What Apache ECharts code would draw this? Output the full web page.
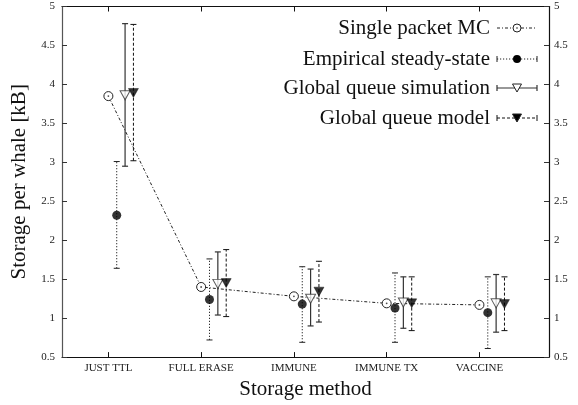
<!DOCTYPE html>
<html>
<head>
<meta charset="utf-8">
<script src="https://cdn.jsdelivr.net/npm/echarts@6/dist/echarts.min.js"></script>
<style>html,body{margin:0;padding:0;background:#fff}#c{width:578px;height:405px}</style>
</head>
<body>
<div id="c"></div>
<script>
const categories = ['JUST TTL', 'FULL ERASE', 'IMMUNE', 'IMMUNE TX', 'VACCINE'];
const yTicks = [0.5, 1, 1.5, 2, 2.5, 3, 3.5, 4, 4.5, 5];
const seriesNames = ['Single packet MC', 'Empirical steady-state', 'Global queue simulation', 'Global queue model'];
const offsets = [0, 0.09, 0.18, 0.27];

const mcValues = [3.85, 1.40, 1.28, 1.19, 1.17];

const empValues = [2.32, 1.24, 1.18, 1.13, 1.07];
const empLow = [1.64, 0.72, 0.69, 0.69, 0.61];
const empHigh = [3.01, 1.76, 1.66, 1.58, 1.53];

const simValues = [3.86, 1.44, 1.25, 1.20, 1.19];
const simLow = [2.95, 1.04, 0.90, 0.87, 0.82];
const simHigh = [4.78, 1.85, 1.63, 1.53, 1.56];

const modelValues = [3.89, 1.45, 1.34, 1.19, 1.18];
const modelLow = [3.02, 1.02, 0.95, 0.84, 0.84];
const modelHigh = [4.77, 1.88, 1.73, 1.53, 1.53];

const FONT = 'Liberation Serif';
const catIdx = categories.map((c, i) => i);

const empStyle = { stroke: '#222', lineWidth: 1, lineDash: [1.2, 1.8] };
const simStyle = { stroke: '#333', lineWidth: 1.2, lineDash: null };
const modelStyle = { stroke: '#111', lineWidth: 1, lineDash: [3, 2] };

function errBar(style) {
  return function (params, api) {
    const x = api.value(0), lo = api.value(1), hi = api.value(2);
    const p1 = api.coord([x, lo]), p2 = api.coord([x, hi]);
    const w = 3;
    return {
      type: 'group',
      children: [
        { type: 'line', shape: { x1: p1[0], y1: p1[1], x2: p2[0], y2: p2[1] }, style: Object.assign({}, style) },
        { type: 'line', shape: { x1: p1[0] - w, y1: p1[1], x2: p1[0] + w, y2: p1[1] }, style: Object.assign({}, style, { lineDash: null }) },
        { type: 'line', shape: { x1: p2[0] - w, y1: p2[1], x2: p2[0] + w, y2: p2[1] }, style: Object.assign({}, style, { lineDash: null }) }
      ]
    };
  };
}

const mk = (vals, k) => vals.map((v, i) => [i + offsets[k], v]);
const mkErr = (lo, hi, k) => lo.map((v, i) => [i + offsets[k], v, hi[i]]);

// legend built from graphic elements
const legX2 = 490, sampleX1 = 497, sampleX2 = 537, rowY = [28, 59, 88, 118];
const legendGraphic = [];
const lineStyles = [
  { stroke: '#222', lineWidth: 1, lineDash: [3, 2, 1, 2] },
  empStyle, simStyle, modelStyle
];
seriesNames.forEach((n, k) => {
  const y = rowY[k];
  legendGraphic.push({ type: 'text', style: { text: n, x: legX2, y: y, align: 'right', verticalAlign: 'middle', font: '21px ' + FONT, fill: '#111' } });
  legendGraphic.push({ type: 'line', shape: { x1: sampleX1, y1: y, x2: sampleX2, y2: y }, style: Object.assign({}, lineStyles[k]) });
  if (k > 0) {
    legendGraphic.push({ type: 'line', shape: { x1: sampleX1, y1: y - 3, x2: sampleX1, y2: y + 3 }, style: Object.assign({}, lineStyles[k], { lineDash: null }) });
    legendGraphic.push({ type: 'line', shape: { x1: sampleX2, y1: y - 3, x2: sampleX2, y2: y + 3 }, style: Object.assign({}, lineStyles[k], { lineDash: null }) });
  }
  const cx = (sampleX1 + sampleX2) / 2;
  if (k === 0) {
    legendGraphic.push({ type: 'circle', shape: { cx: cx, cy: y, r: 4 }, style: { fill: '#fff', stroke: '#222', lineWidth: 1 } });
    legendGraphic.push({ type: 'circle', shape: { cx: cx, cy: y, r: 0.8 }, style: { fill: '#222' } });
  } else if (k === 1) {
    legendGraphic.push({ type: 'circle', shape: { cx: cx, cy: y, r: 4 }, style: { fill: '#000' } });
  } else {
    legendGraphic.push({ type: 'polygon', shape: { points: [[cx - 4.5, y - 4], [cx + 4.5, y - 4], [cx, y + 4]] }, style: { fill: k === 2 ? '#fff' : '#000', stroke: '#222', lineWidth: 1 } });
  }
});

const chart = echarts.init(document.getElementById('c'), null, { renderer: 'canvas' });
chart.setOption({
  animation: false,
  backgroundColor: '#fff',
  grid: { left: 62, right: 29, top: 6.5, bottom: 42, containLabel: false },
  xAxis: [
    {
      type: 'value', min: -0.5, max: 4.75, position: 'bottom',
      name: 'Storage method', nameLocation: 'middle', nameGap: 20,
      nameTextStyle: { fontFamily: FONT, fontSize: 21, color: '#111' },
      axisLine: { show: true, onZero: false, lineStyle: { color: '#111', width: 1.2 } },
      axisTick: { show: true, inside: true, length: 5, customValues: catIdx, lineStyle: { color: '#111' } },
      axisLabel: { show: true, customValues: catIdx, formatter: v => categories[Math.round(v)] || '', fontFamily: FONT, fontSize: 11, color: '#222', margin: 6 },
      splitLine: { show: false }
    },
    {
      type: 'value', min: -0.5, max: 4.75, position: 'top',
      axisLine: { show: true, onZero: false, lineStyle: { color: '#111', width: 1.2 } },
      axisTick: { show: true, inside: true, length: 5, customValues: catIdx, lineStyle: { color: '#111' } },
      axisLabel: { show: false },
      splitLine: { show: false }
    }
  ],
  yAxis: [
    {
      type: 'value', min: 0.5, max: 5, position: 'left',
      name: 'Storage per whale [kB]', nameLocation: 'middle', nameGap: 32,
      nameTextStyle: { fontFamily: FONT, fontSize: 21, color: '#111' },
      axisLine: { show: true, onZero: false, lineStyle: { color: '#555', width: 1.2 } },
      axisTick: { show: true, inside: true, length: 5, customValues: yTicks, lineStyle: { color: '#333' } },
      axisLabel: { customValues: yTicks, fontFamily: FONT, fontSize: 11, color: '#222', margin: 7 },
      splitLine: { show: false }
    },
    {
      type: 'value', min: 0.5, max: 5, position: 'right',
      axisLine: { show: true, onZero: false, lineStyle: { color: '#111', width: 1.2 } },
      axisTick: { show: true, inside: true, length: 5, customValues: yTicks, lineStyle: { color: '#333' } },
      axisLabel: { customValues: yTicks, fontFamily: FONT, fontSize: 11, color: '#222', margin: 5 },
      splitLine: { show: false }
    }
  ],
  graphic: legendGraphic,
  series: [
    { type: 'custom', name: 'empErr', renderItem: errBar(empStyle), data: mkErr(empLow, empHigh, 1), z: 2, silent: true },
    { type: 'custom', name: 'simErr', renderItem: errBar(simStyle), data: mkErr(simLow, simHigh, 2), z: 2, silent: true },
    { type: 'custom', name: 'modelErr', renderItem: errBar(modelStyle), data: mkErr(modelLow, modelHigh, 3), z: 2, silent: true },
    {
      type: 'line', name: seriesNames[0], data: mk(mcValues, 0), z: 3,
      symbol: 'circle', symbolSize: 9, showSymbol: true,
      lineStyle: { color: '#222', width: 1, type: [3, 2, 1, 2] },
      itemStyle: { color: '#fff', borderColor: '#222', borderWidth: 1 }
    },
    { type: 'scatter', name: 'mcDot', data: mk(mcValues, 0), symbol: 'circle', symbolSize: 1.8, itemStyle: { color: '#222' }, z: 4 },
    { type: 'scatter', name: seriesNames[1], data: mk(empValues, 1), symbol: 'circle', symbolSize: 9, itemStyle: { color: '#000' }, z: 4 },
    { type: 'scatter', name: seriesNames[2], data: mk(simValues, 2), symbol: 'triangle', symbolRotate: 180, symbolSize: [10, 9], itemStyle: { color: '#fff', borderColor: '#333', borderWidth: 1 }, z: 4 },
    { type: 'scatter', name: seriesNames[3], data: mk(modelValues, 3), symbol: 'triangle', symbolRotate: 180, symbolSize: [10, 9], itemStyle: { color: '#000', borderColor: '#000', borderWidth: 0.5 }, z: 4 }
  ]
});
</script>
</body>
</html>
